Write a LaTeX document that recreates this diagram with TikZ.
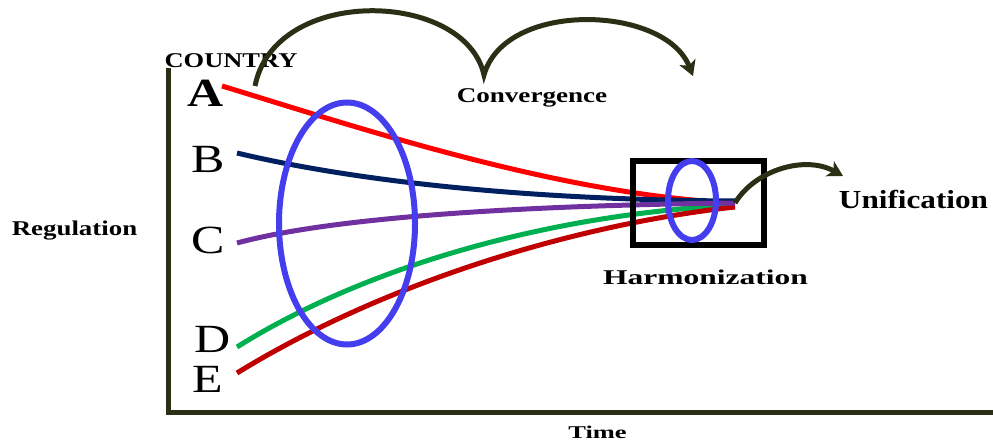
\documentclass[tikz,border=0pt]{standalone}
\usepackage{fontspec}
\setmainfont{Liberation Serif}
\usetikzlibrary{arrows.meta}
\definecolor{axiscol}{RGB}{42,48,20}
\definecolor{ringblue}{RGB}{68,62,238}
\definecolor{cA}{RGB}{255,0,0}
\definecolor{cB}{RGB}{0,32,96}
\definecolor{cC}{RGB}{112,48,160}
\definecolor{cD}{RGB}{0,176,80}
\definecolor{cE}{RGB}{192,0,0}
\begin{document}
\begin{tikzpicture}[x=1pt,y=-1pt,
  lbl/.style={font=\fontsize{21}{24}\selectfont\bfseries, inner sep=0pt, anchor=base},
  letter/.style={font=\fontsize{40}{44}\selectfont, inner sep=0pt, anchor=base},
  curve/.style={line width=5pt},
  ring/.style={draw=ringblue, line width=6pt},
  bigarrow/.style={draw=axiscol, line width=5pt, -{Stealth[length=15pt,width=17pt,inset=4pt]}}]
\useasboundingbox (0,0) rectangle (993,441);

% axes
\coordinate (ytop) at (168,68);
\coordinate (origin) at (168,412);
\coordinate (xend) at (993,412);
\draw[axiscol, line width=5pt] (ytop) -- (origin) -- (xend);

% labels
\node[lbl] (country) at (231,68) {\scalebox{1.26}[1]{COUNTRY}};
\node[lbl] (conv) at (532,103) {\scalebox{1.29}[1]{Convergence}};
\node[lbl] (reg) at (74.5,235) {\scalebox{1.28}[1]{Regulation}};
\node[lbl] (harm) at (705.5,284) {\scalebox{1.5}[1]{Harmonization}};
\node[lbl, font=\fontsize{26}{30}\selectfont\bfseries] (unif) at (913.5,208) {\scalebox{1.2}[1]{Unification}};
\node[lbl, font=\fontsize{18}{22}\selectfont\bfseries] (time) at (597.5,438) {\scalebox{1.47}[1]{Time}};

% country letters
\node[letter, font=\fontsize{40}{44}\selectfont\bfseries] (A) at (206,107) {\scalebox{1.25}[1]{A}};
\node[letter] (B) at (208,172) {\scalebox{1.25}[1]{B}};
\node[letter] (C) at (208,253) {\scalebox{1.25}[1]{C}};
\node[letter] (D) at (213,352) {\scalebox{1.25}[1]{D}};
\node[letter] (E) at (208,392) {\scalebox{1.25}[1]{E}};

% curve ends
\coordinate (sA) at (222,86);
\coordinate (sB) at (237,153);
\coordinate (sC) at (237,243);
\coordinate (sD) at (237,347);
\coordinate (sE) at (237,373);
\coordinate (eA) at (735,203);
\coordinate (eB) at (735,201);
\coordinate (eC) at (735,203);
\coordinate (eD) at (735,205);
\coordinate (eE) at (735,207);

\draw[curve, cA] (sA) .. controls (360,128) and (560,195) .. (eA);
\draw[curve, cD] (sD) .. controls (360,270) and (540,215) .. (eD);
\draw[curve, cE] (sE) .. controls (380,285) and (570,225) .. (eE);
\draw[curve, cB] (sB) .. controls (350,180) and (520,200) .. (eB);
\draw[curve, cC] (sC) .. controls (340,215) and (550,205) .. (eC);

% harmonization box and rings
\node[draw=black, line width=6pt, minimum width=131pt, minimum height=84pt, inner sep=0pt] (box) at (698.5,203) {};
\draw[ring] (347,223.5) ellipse [x radius=68pt, y radius=121pt];
\draw[ring] (692,200.5) ellipse [x radius=24pt, y radius=39.5pt];

% arrows
\coordinate (arcstart) at (255,86);
\coordinate (cusp) at (484,75);
\coordinate (ctip) at (693,76);
\coordinate (utip) at (843,176);
\draw[bigarrow] (arcstart) .. controls (275,-15) and (465,-10) .. (cusp)
  .. controls (505,0) and (665,5) .. (ctip);
\draw[bigarrow] (eC) .. controls (755,170) and (805,155) .. (utip);
\end{tikzpicture}
\end{document}
